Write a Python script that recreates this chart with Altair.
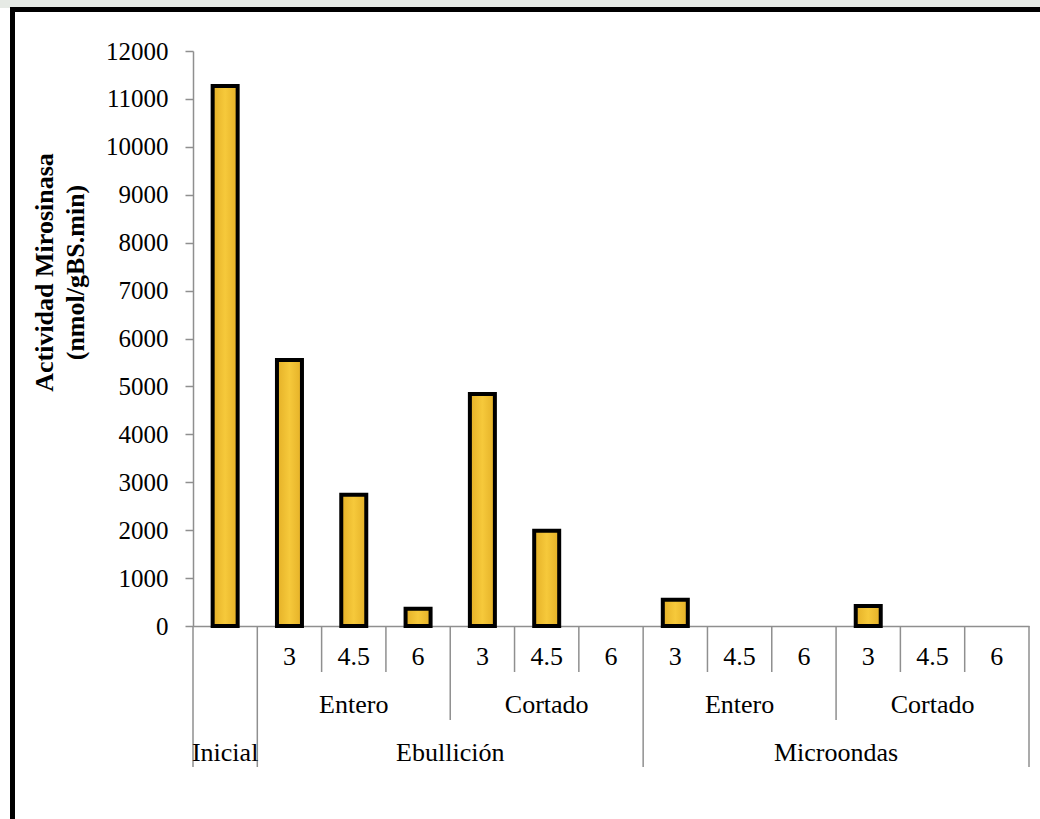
import altair as alt
import pandas as pd

# Myrosinase activity by treatment, cut and time (min)
metodo = ["Inicial",
          "Ebullición", "Ebullición", "Ebullición", "Ebullición", "Ebullición", "Ebullición",
          "Microondas", "Microondas", "Microondas", "Microondas", "Microondas", "Microondas"]
forma = ["",
         "Entero", "Entero", "Entero", "Cortado", "Cortado", "Cortado",
         "Entero", "Entero", "Entero", "Cortado", "Cortado", "Cortado"]
tiempo = ["", "3", "4.5", "6", "3", "4.5", "6", "3", "4.5", "6", "3", "4.5", "6"]
actividad = [11270, 5550, 2740, 360, 4840, 1990, 0, 550, 0, 0, 420, 0, 0]

n = len(metodo)
df = pd.DataFrame({"metodo": metodo, "forma": forma, "tiempo": tiempo,
                   "actividad": actividad})
df["pos"] = df.index + 0.5

# Category separators: full height between methods, mid height between cuts
bordes = []
for b in range(n + 1):
    if b == 0 or b == n or metodo[b - 1] != metodo[b]:
        nivel = 3
    elif forma[b - 1] != forma[b]:
        nivel = 2
    else:
        nivel = 1
    bordes.append({"borde": b, "nivel": nivel})
df_bordes = pd.DataFrame(bordes)

W, H = 836, 575
GRIS = "#8f8f8f"
FUENTE = "Liberation Serif"
xscale = alt.Scale(domain=[0, n], nice=False, zero=False, padding=0)

relleno = alt.Gradient(
    gradient="linear",
    stops=[alt.GradientStop(color="#E4B027", offset=0),
           alt.GradientStop(color="#F6C93B", offset=0.5),
           alt.GradientStop(color="#E4B027", offset=1)],
    x1=0, x2=1, y1=0, y2=0,
)

base = alt.Chart(df)

barras = base.transform_filter("datum.actividad > 0").mark_bar(
    size=25, stroke="black", strokeWidth=4, color=relleno
).encode(
    x=alt.X("pos:Q", scale=xscale,
            axis=alt.Axis(labels=False, ticks=False, grid=False, title=None,
                          domainColor=GRIS, domainWidth=1.5)),
    y=alt.Y("actividad:Q", scale=alt.Scale(domain=[0, 12000], nice=False),
            axis=alt.Axis(values=list(range(0, 12001, 1000)), format="d",
                          grid=False, domainColor=GRIS, domainWidth=1.5,
                          tickColor=GRIS, tickWidth=1.5, tickSize=8,
                          labelFont=FUENTE, labelFontSize=25, labelColor="black",
                          labelPadding=17,
                          title=["Actividad Mirosinasa", "(nmol/gBS.min)"],
                          titleFont=FUENTE, titleFontSize=26, titleFontWeight="bold",
                          titleColor="black", titleAngle=270, titleAlign="center",
                          titleBaseline="alphabetic", titleLineHeight=31,
                          titleX=-141, titleY=221)),
)

def separadores(nivel, largo):
    return alt.Chart(df_bordes).transform_filter(
        f"datum.nivel == {nivel}"
    ).mark_rule(color=GRIS, strokeWidth=1.5).encode(
        x=alt.X("borde:Q", scale=xscale),
        y=alt.value(H),
        y2=alt.value(H + largo),
    )

texto = dict(font=FUENTE, fontSize=26, color="black", align="center",
             baseline="alphabetic")

fila_tiempo = base.transform_filter("datum.tiempo != ''").mark_text(**texto).encode(
    x=alt.X("pos:Q", scale=xscale), y=alt.value(614), text="tiempo:N")

fila_forma = base.transform_filter("datum.forma != ''").transform_aggregate(
    pos="mean(pos)", groupby=["metodo", "forma"]
).mark_text(**texto).encode(
    x=alt.X("pos:Q", scale=xscale), y=alt.value(662), text="forma:N")

fila_metodo = base.transform_aggregate(
    pos="mean(pos)", groupby=["metodo"]
).mark_text(**texto).encode(
    x=alt.X("pos:Q", scale=xscale), y=alt.value(710), text="metodo:N")

marco_df = pd.DataFrame({"k": [0]})
franja = alt.Chart(marco_df).mark_rect(color="#e6eae5").encode(
    x=alt.value(-193), x2=alt.value(W + 11),
    y=alt.value(-51), y2=alt.value(-43))
marco = alt.Chart(marco_df).mark_rect(
    fillOpacity=0, stroke="black", strokeWidth=5
).encode(
    x=alt.value(-180.5), x2=alt.value(W + 60),
    y=alt.value(-41.5), y2=alt.value(H + 260))

chart = alt.layer(
    franja, marco,
    separadores(1, 46), separadores(2, 94), separadores(3, 141),
    barras, fila_tiempo, fila_forma, fila_metodo,
).properties(
    width=W, height=H,
    autosize=alt.AutoSizeParams(type="none"),
    padding={"left": 193, "top": 51, "right": 11, "bottom": 193},
    background="white",
).configure_view(stroke=None)

chart.save("out.html", embed_options={"renderer": "svg", "actions": False})
